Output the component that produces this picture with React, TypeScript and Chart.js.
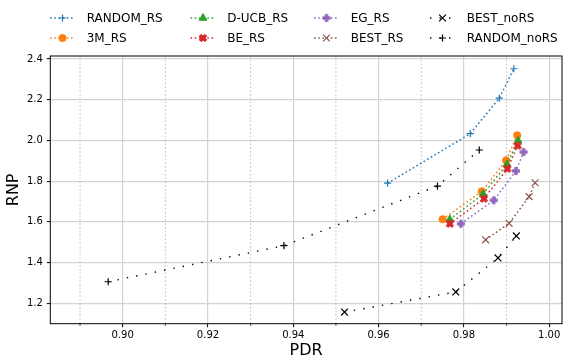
import React, { useEffect, useRef } from 'react';
import { Chart, registerables } from 'chart.js';

Chart.register(...registerables);

const FONT = "'DejaVu Sans', 'Liberation Sans', sans-serif";

// ---- data (PDR = x, RNP = y) ----
const randomRsPdr = [0.9621, 0.9815, 0.9883, 0.9917];
const randomRsRnp = [1.790, 2.033, 2.208, 2.352];
const m3RsPdr = [0.9750, 0.9842, 0.9899, 0.9925];
const m3RsRnp = [1.613, 1.750, 1.902, 2.025];
const ducbRsPdr = [0.9767, 0.9845, 0.9901, 0.9927];
const ducbRsRnp = [1.612, 1.737, 1.883, 1.999];
const beRsPdr = [0.9767, 0.9847, 0.9902, 0.9926];
const beRsRnp = [1.591, 1.714, 1.861, 1.974];
const egRsPdr = [0.9793, 0.9870, 0.9922, 0.9940];
const egRsRnp = [1.591, 1.706, 1.850, 1.943];
const bestRsPdr = [0.9851, 0.9906, 0.9953, 0.9967];
const bestRsRnp = [1.512, 1.593, 1.724, 1.792];
const bestNoRsPdr = [0.9520, 0.9781, 0.9880, 0.9923];
const bestNoRsRnp = [1.157, 1.256, 1.423, 1.531];
const randomNoRsPdr = [0.8966, 0.9378, 0.9738, 0.9836];
const randomNoRsRnp = [1.306, 1.483, 1.776, 1.953];

const seriesLabels = ['RANDOM_RS', '3M_RS', 'D-UCB_RS', 'BE_RS', 'EG_RS', 'BEST_RS', 'BEST_noRS', 'RANDOM_noRS'];
const seriesPdr = [randomRsPdr, m3RsPdr, ducbRsPdr, beRsPdr, egRsPdr, bestRsPdr, bestNoRsPdr, randomNoRsPdr];
const seriesRnp = [randomRsRnp, m3RsRnp, ducbRsRnp, beRsRnp, egRsRnp, bestRsRnp, bestNoRsRnp, randomNoRsRnp];

const xMin = 0.88303;
const xMax = 1.003;
const yMin = 1.1;
const yMax = 2.4147;
const xMajorStep = 0.02;
const yMajorStep = 0.2;
const xMinorTicks = [0.89, 0.91, 0.93, 0.95, 0.97, 0.99];

type Marker = 'cross' | 'crossRot' | 'circle' | 'triangle' | HTMLCanvasElement;

function makeMarker(kind: 'X' | 'P', color: string, size: number): HTMLCanvasElement {
  const c = document.createElement('canvas');
  const d = 12;
  c.width = d;
  c.height = d;
  const g = c.getContext('2d')!;
  const pts =
    kind === 'P'
      ? [[1 / 3, 0], [2 / 3, 0], [2 / 3, 1 / 3], [1, 1 / 3], [1, 2 / 3], [2 / 3, 2 / 3], [2 / 3, 1], [1 / 3, 1], [1 / 3, 2 / 3], [0, 2 / 3], [0, 1 / 3], [1 / 3, 1 / 3]]
      : [[0.25, 0], [0.5, 0.25], [0.75, 0], [1, 0.25], [0.75, 0.5], [1, 0.75], [0.75, 1], [0.5, 0.75], [0.25, 1], [0, 0.75], [0.25, 0.5], [0, 0.25]];
  g.beginPath();
  pts.forEach(([px, py], i) => {
    const X = d / 2 + (px - 0.5) * size;
    const Y = d / 2 + (py - 0.5) * size;
    if (i) g.lineTo(X, Y);
    else g.moveTo(X, Y);
  });
  g.closePath();
  g.fillStyle = color;
  g.fill();
  g.lineWidth = 1;
  g.lineJoin = 'round';
  g.strokeStyle = color;
  g.stroke();
  return c;
}

interface Style {
  color: string;
  marker: Marker;
  radius: number;
  markerWidth: number;
  dash: number[];
  lineWidth: number;
}

function buildStyles(): Style[] {
  const colDash = [1.6, 2.6];
  const blackDash = [1.4, 8.1];
  return [
    { color: '#1f77b4', marker: 'cross', radius: 3.6, markerWidth: 1.2, dash: colDash, lineWidth: 1.5 },
    { color: '#ff7f0e', marker: 'circle', radius: 3.6, markerWidth: 1, dash: colDash, lineWidth: 1.5 },
    { color: '#2ca02c', marker: 'triangle', radius: 4.5, markerWidth: 1, dash: colDash, lineWidth: 1.5 },
    { color: '#d62728', marker: makeMarker('X', '#d62728', 7.4), radius: 4, markerWidth: 1, dash: colDash, lineWidth: 1.5 },
    { color: '#9467bd', marker: makeMarker('P', '#9467bd', 7.2), radius: 4, markerWidth: 1, dash: colDash, lineWidth: 1.5 },
    { color: '#8c564b', marker: 'crossRot', radius: 4.8, markerWidth: 1.2, dash: colDash, lineWidth: 1.5 },
    { color: '#000000', marker: 'crossRot', radius: 4.8, markerWidth: 1.2, dash: blackDash, lineWidth: 1.4 },
    { color: '#000000', marker: 'cross', radius: 3.6, markerWidth: 1.2, dash: blackDash, lineWidth: 1.4 },
  ];
}

function drawMarker(ctx: CanvasRenderingContext2D, s: Style, x: number, y: number) {
  ctx.save();
  ctx.setLineDash([]);
  ctx.strokeStyle = s.color;
  ctx.fillStyle = s.color;
  ctx.lineWidth = s.markerWidth;
  const r = s.radius;
  if (typeof s.marker === 'object') {
    const m = s.marker as HTMLCanvasElement;
    ctx.drawImage(m, x - m.width / 2, y - m.height / 2);
  } else if (s.marker === 'cross') {
    ctx.beginPath();
    ctx.moveTo(x - r, y);
    ctx.lineTo(x + r, y);
    ctx.moveTo(x, y - r);
    ctx.lineTo(x, y + r);
    ctx.stroke();
  } else if (s.marker === 'crossRot') {
    const o = r * Math.SQRT1_2;
    ctx.beginPath();
    ctx.moveTo(x - o, y - o);
    ctx.lineTo(x + o, y + o);
    ctx.moveTo(x - o, y + o);
    ctx.lineTo(x + o, y - o);
    ctx.stroke();
  } else if (s.marker === 'circle') {
    ctx.beginPath();
    ctx.arc(x, y, r, 0, Math.PI * 2);
    ctx.fill();
    ctx.stroke();
  } else if (s.marker === 'triangle') {
    ctx.beginPath();
    for (let k = 0; k < 3; k++) {
      const a = (k * 2 * Math.PI) / 3;
      const px = x + Math.sin(a) * r;
      const py = y - Math.cos(a) * r;
      if (k) ctx.lineTo(px, py);
      else ctx.moveTo(px, py);
    }
    ctx.closePath();
    ctx.fill();
    ctx.stroke();
  }
  ctx.restore();
}

const legendColX = [50, 190.5, 314, 430];
const legendRowY = [18, 38];

export default function App() {
  const ref = useRef<HTMLCanvasElement | null>(null);

  useEffect(() => {
    if (!ref.current) return;
    const styles = buildStyles();

    const datasets = seriesLabels.map((label, i) => {
      const s = styles[i];
      return {
        label,
        data: seriesPdr[i].map((x, k) => ({ x, y: seriesRnp[i][k] })),
        showLine: true,
        borderColor: s.color,
        backgroundColor: s.color,
        borderWidth: s.lineWidth,
        borderDash: s.dash,
        pointStyle: s.marker as any,
        pointRadius: s.radius,
        pointBorderWidth: s.markerWidth,
        pointBorderColor: s.color,
        pointBackgroundColor: s.color,
        pointHoverRadius: s.radius,
        order: seriesLabels.length - i,
        tension: 0,
      };
    });

    const minorGrid = {
      id: 'minorGrid',
      beforeDatasetsDraw(chart: any) {
        const { ctx, chartArea, scales } = chart;
        ctx.save();
        ctx.strokeStyle = '#b8b8b8';
        ctx.lineWidth = 0.9;
        ctx.setLineDash([1.6, 2.2]);
        xMinorTicks.forEach((v) => {
          const px = scales.x.getPixelForValue(v);
          ctx.beginPath();
          ctx.moveTo(px, chartArea.top);
          ctx.lineTo(px, chartArea.bottom);
          ctx.stroke();
        });
        ctx.setLineDash([]);
        ctx.strokeStyle = '#000';
        ctx.lineWidth = 0.8;
        xMinorTicks.forEach((v) => {
          const px = scales.x.getPixelForValue(v);
          ctx.beginPath();
          ctx.moveTo(px, chartArea.bottom);
          ctx.lineTo(px, chartArea.bottom + 2);
          ctx.stroke();
        });
        ctx.restore();
      },
    };

    const frameAndLegend = {
      id: 'frameAndLegend',
      afterDraw(chart: any) {
        const { ctx, chartArea } = chart;
        ctx.save();
        ctx.strokeStyle = '#000';
        ctx.lineWidth = 1;
        ctx.setLineDash([]);
        ctx.strokeRect(chartArea.left, chartArea.top, chartArea.right - chartArea.left, chartArea.bottom - chartArea.top);
        ctx.restore();

        seriesLabels.forEach((label, i) => {
          const s = styles[i];
          const col = Math.floor(i / 2);
          const row = i % 2;
          const x0 = legendColX[col];
          const y = legendRowY[row];
          ctx.save();
          ctx.strokeStyle = s.color;
          ctx.lineWidth = s.lineWidth;
          ctx.setLineDash(s.dash);
          ctx.beginPath();
          ctx.moveTo(x0, y);
          ctx.lineTo(x0 + 25, y);
          ctx.stroke();
          ctx.restore();
          drawMarker(ctx, s, x0 + 12.5, y);
          ctx.save();
          ctx.fillStyle = '#000';
          ctx.font = `12px ${FONT}`;
          ctx.textBaseline = 'middle';
          ctx.textAlign = 'left';
          ctx.fillText(label, x0 + 36.7, y + 0.5);
          ctx.restore();
        });
      },
    };

    const chart = new Chart(ref.current, {
      type: 'scatter',
      data: { datasets: datasets as any },
      options: {
        animation: false,
        responsive: false,
        devicePixelRatio: 1,
        events: [],
        layout: { autoPadding: false, padding: { top: 56, right: 1, bottom: 0, left: 0 } },
        plugins: {
          legend: { display: false },
          tooltip: { enabled: false },
        },
        scales: {
          x: {
            type: 'linear',
            min: xMin,
            max: xMax,
            border: { display: false },
            grid: {
              color: '#d3d3d3',
              lineWidth: 1.2,
              drawTicks: true,
              tickLength: 3.5,
              tickColor: '#000',
              tickWidth: 1,
            },
            ticks: {
              stepSize: xMajorStep,
              includeBounds: false,
              autoSkip: false,
              maxRotation: 0,
              padding: 2,
              color: '#000',
              font: { family: FONT, size: 10 },
              callback: (v: any) => Number(v).toFixed(2),
            },
            title: {
              display: true,
              text: 'PDR',
              color: '#000',
              font: { family: FONT, size: 16 },
              padding: { top: 0, bottom: 0 },
            },
            afterFit: (s: any) => {
              s.height = 36.3;
              s.paddingLeft = 0;
              s.paddingRight = 0;
              s.paddingTop = 0;
              s.paddingBottom = 0;
            },
          },
          y: {
            type: 'linear',
            min: yMin,
            max: yMax,
            border: { display: false },
            grid: {
              color: '#d3d3d3',
              lineWidth: 1.2,
              drawTicks: true,
              tickLength: 3.5,
              tickColor: '#000',
              tickWidth: 1,
            },
            ticks: {
              stepSize: yMajorStep,
              includeBounds: false,
              autoSkip: false,
              padding: 4,
              color: '#000',
              font: { family: FONT, size: 10 },
              callback: (v: any) => Number(v).toFixed(1),
            },
            title: {
              display: true,
              text: 'RNP',
              color: '#000',
              font: { family: FONT, size: 16 },
              padding: { top: 4, bottom: 0 },
            },
            afterFit: (s: any) => {
              s.width = 50.3;
              s.paddingLeft = 0;
              s.paddingRight = 0;
              s.paddingTop = 0;
              s.paddingBottom = 0;
            },
          },
        },
      },
      plugins: [minorGrid, frameAndLegend],
    } as any);

    return () => chart.destroy();
  }, []);

  return (
    <div style={{ position: 'absolute', left: 0, top: 0, width: 563, height: 360, background: '#fff' }}>
      <canvas ref={ref} width={563} height={360} style={{ display: 'block', width: 563, height: 360 }} />
    </div>
  );
}
